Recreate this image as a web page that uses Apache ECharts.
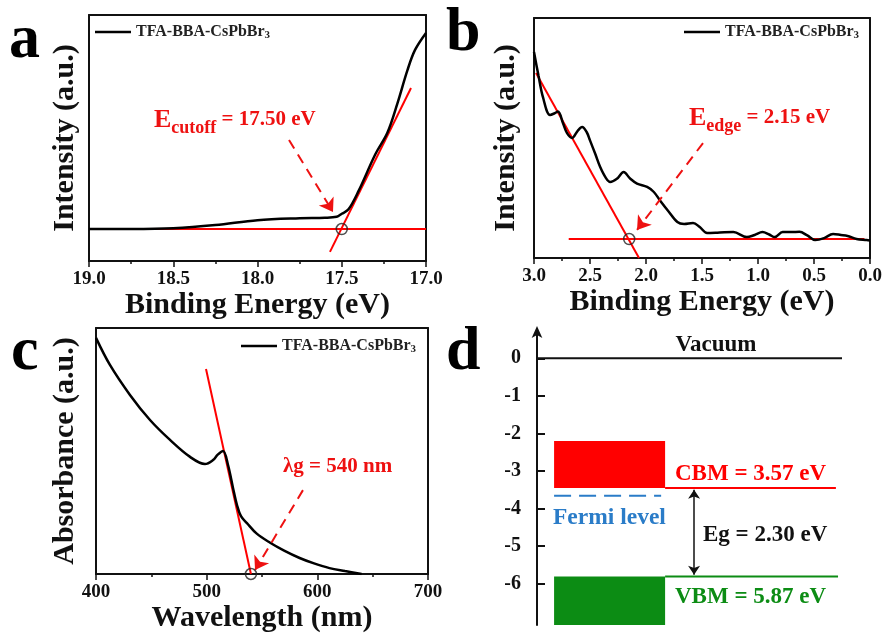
<!DOCTYPE html>
<html>
<head>
<meta charset="utf-8">
<script src="https://cdn.jsdelivr.net/npm/echarts@6/dist/echarts.min.js"></script>
<style>
  html, body { margin: 0; padding: 0; background: #fff; }
  #main { width: 885px; height: 635px; }
</style>
</head>
<body>
<div id="main"></div>
<script>
// panel a: secondary electron cutoff
var aEnergy = [19.0, 18.75, 18.5, 18.25, 18.0, 17.75, 17.6, 17.53, 17.5, 17.46, 17.4, 17.3, 17.23, 17.17, 17.11, 17.065, 17.0];
var aIntensity = [13, 13, 13.3, 14.6, 16.6, 17.4, 17.6, 18.0, 19.2, 21.0, 28.5, 43.5, 52, 64, 77.6, 85.8, 92.7];
var aBaseline = [[18.78, 13], [17.0, 13]];
var aTangent = [[17.57, 3.7], [17.089, 70.3]];
var aCutoff = [[17.5, 13]];

// panel b: valence band edge
var bEnergy = [3.0, 2.96, 2.92, 2.857, 2.82, 2.786, 2.74, 2.705, 2.66, 2.61, 2.57, 2.53, 2.5, 2.45, 2.41, 2.36, 2.32, 2.26, 2.2, 2.14, 2.08, 1.99, 1.93, 1.875, 1.8, 1.72, 1.66, 1.58, 1.52, 1.455, 1.38, 1.3, 1.22, 1.1, 1.03, 0.96, 0.9, 0.85, 0.78, 0.7, 0.63, 0.56, 0.49, 0.41, 0.33, 0.26, 0.2, 0.12, 0.03, 0.0];
var bIntensity = [85.8, 76, 67, 59.6, 60.2, 61, 56, 52, 50, 53, 54.6, 52.5, 49, 43, 38, 33.5, 31.7, 33, 35.8, 33, 31, 29.6, 27.5, 24, 19.5, 15, 14.2, 14.6, 12.9, 10.4, 10.5, 10.7, 10.8, 8.7, 9.6, 10.8, 9.8, 8.7, 10.8, 10.8, 10.9, 9.4, 7.5, 8.3, 10, 9.6, 9.2, 7.9, 7.5, 7.3];
var bBaseline = [[2.69, 7.9], [0.05, 7.9]];
var bTangent = [[2.982, 77.1], [2.0625, 0]];
var bEdge = [[2.15, 7.9]];

// panel c: absorption
var cWavelength = [400, 412.6, 430.7, 448.8, 466.9, 485, 498.5, 505.7, 510, 514.8, 519.3, 523.8, 527.4, 531, 536.4, 545, 557, 570, 584, 597, 611, 625, 640];
var cAbsorbance = [96, 85, 72.8, 62.6, 54.5, 47.6, 44.7, 46.3, 48.5, 50, 44.3, 35, 28, 23.5, 20.7, 16.5, 12.8, 9.5, 6.5, 4.3, 2.4, 1.2, 0];
var cTangent = [[499.4, 83.3], [540, 0]];
var cGap = [[540, 0]];

// panel d: band diagram (eV)
var dTicks = [0, -1, -2, -3, -4, -5, -6];
var vacuum = 0;
var cbTop = -2.2, cbm = -3.45, fermi = -3.66, vbm = -5.81, vbBottom = -7.1;

var FONT = 'Liberation Serif';
var RED = '#ff0000';
var TRED = '#ee1111';
var GREEN = '#0c8c14';
var BLUE = '#2a7cc8';
var INK = '#111';
var NAME = 'TFA-BBA-CsPbBr3';

function bottomAxis(grid, min, max, interval, inverse, digits, title) {
    return {
        type: 'value', gridIndex: grid, position: 'bottom', min: min, max: max,
        interval: interval, inverse: inverse,
        axisLine: { onZero: false, lineStyle: { color: INK, width: 2 } },
        axisTick: { length: 6, lineStyle: { color: INK, width: 1.5 } },
        minorTick: { show: true, splitNumber: 2, length: 3, lineStyle: { color: INK, width: 1.5 } },
        axisLabel: {
            margin: 9, color: INK, fontFamily: FONT, fontWeight: 'bold', fontSize: 19,
            formatter: function (v) { return v.toFixed(digits); }
        },
        splitLine: { show: false },
        name: title, nameLocation: 'middle', nameGap: 29,
        nameTextStyle: { color: INK, fontFamily: FONT, fontWeight: 'bold', fontSize: 30 }
    };
}
function topAxis(grid, min, max) {
    return {
        type: 'value', gridIndex: grid, position: 'top', min: min, max: max,
        axisLine: { onZero: false, lineStyle: { color: INK, width: 2 } },
        axisTick: { show: false }, axisLabel: { show: false }, splitLine: { show: false }
    };
}
function leftAxis(grid, title, gap) {
    return {
        type: 'value', gridIndex: grid, position: 'left', min: 0, max: 100,
        axisLine: { onZero: false, lineStyle: { color: INK, width: 2 } },
        axisTick: { show: false }, axisLabel: { show: false }, splitLine: { show: false },
        name: title, nameLocation: 'middle', nameGap: gap, nameRotate: 90,
        nameTextStyle: { color: INK, fontFamily: FONT, fontWeight: 'bold', fontSize: 30 }
    };
}
function rightAxis(grid) {
    return {
        type: 'value', gridIndex: grid, position: 'right', min: 0, max: 100,
        axisLine: { onZero: false, lineStyle: { color: INK, width: 2 } },
        axisTick: { show: false }, axisLabel: { show: false }, splitLine: { show: false }
    };
}
function zip(xs, ys) {
    return xs.map(function (x, i) { return [x, ys[i]]; });
}
function redLine(xi, yi, data) {
    return {
        type: 'line', xAxisIndex: xi, yAxisIndex: yi, data: data, symbol: 'none',
        lineStyle: { color: RED, width: 2 }, silent: true, z: 3
    };
}
function ring(xi, yi, data) {
    return {
        type: 'scatter', xAxisIndex: xi, yAxisIndex: yi, data: data, symbol: 'circle', symbolSize: 11,
        itemStyle: { color: 'rgba(0,0,0,0)', borderColor: '#222', borderWidth: 1.5 }, silent: true, z: 5
    };
}
function dashArrow(from, to) {
    return {
        silent: true, animation: false, symbol: ['none', 'arrow'], symbolSize: 13,
        lineStyle: { color: TRED, type: [10, 7], width: 2 },
        label: { show: false }, emphasis: { disabled: true },
        data: [[{ coord: from }, { coord: to }]]
    };
}
function legendAt(left, top) {
    return {
        left: left, top: top, padding: 0, itemWidth: 36, itemHeight: 2.5, itemGap: 0,
        icon: 'rect',
        data: [NAME],
        formatter: function () { return 'TFA-BBA-CsPbBr{s|3}'; },
        textStyle: {
            color: '#222', fontFamily: FONT, fontWeight: 'bold', fontSize: 16,
            rich: { s: { fontFamily: FONT, fontWeight: 'bold', fontSize: 11, verticalAlign: 'bottom', padding: [7, 0, 0, 0] } }
        }
    };
}
function curve(xi, yi, data, mark) {
    return {
        name: NAME, type: 'line', xAxisIndex: xi, yAxisIndex: yi, data: data,
        symbol: 'none', smooth: 0.35, lineStyle: { color: '#000', width: 2.5 }, itemStyle: { color: '#000' },
        markLine: mark, z: 4
    };
}
function text(x, y, t, size, color, extra) {
    var st = { x: x, y: y, text: t, fontFamily: FONT, fontWeight: 'bold', fontSize: size, fill: color, verticalAlign: 'middle' };
    if (extra) for (var k in extra) st[k] = extra[k];
    return { type: 'text', silent: true, style: st };
}
function subLabel(x, y, main, sub, rest) {
    return text(x, y, '{e|' + main + '}{s|' + sub + '}{t|' + rest + '}', 22, TRED, {
        rich: {
            e: { fontFamily: FONT, fontWeight: 'bold', fontSize: 26, fill: TRED, lineHeight: 34, verticalAlign: 'middle' },
            s: { fontFamily: FONT, fontWeight: 'bold', fontSize: 18, fill: TRED, lineHeight: 34, verticalAlign: 'bottom' },
            t: { fontFamily: FONT, fontWeight: 'bold', fontSize: 21, fill: TRED, lineHeight: 34, verticalAlign: 'middle' }
        }
    });
}

var chart = echarts.init(document.getElementById('main'), null, { renderer: 'canvas' });

var option = {
    backgroundColor: '#fff',
    animation: false,
    grid: [
        { left: 89, top: 15, width: 337, height: 246 },
        { left: 534, top: 18, width: 336, height: 240 },
        { left: 96, top: 328, width: 332, height: 246 },
        { left: 537, top: 332, width: 305, height: 293 }
    ],
    legend: [legendAt(95, 24), legendAt(684, 24), legendAt(241, 338)],
    xAxis: [
        bottomAxis(0, 17, 19, 0.5, true, 1, 'Binding Energy (eV)'),
        topAxis(0, 17, 19),
        bottomAxis(1, 0, 3, 0.5, true, 1, 'Binding Energy (eV)'),
        topAxis(1, 0, 3),
        bottomAxis(2, 400, 700, 100, false, 0, 'Wavelength (nm)'),
        topAxis(2, 400, 700),
        { type: 'value', gridIndex: 3, min: 0, max: 100, show: false }
    ],
    yAxis: [
        leftAxis(0, 'Intensity (a.u.)', 9),
        rightAxis(0),
        leftAxis(1, 'Intensity (a.u.)', 13),
        rightAxis(1),
        leftAxis(2, 'Absorbance (a.u.)', 16),
        rightAxis(2),
        {
            type: 'value', gridIndex: 3, min: vbBottom, max: 0.7,
            axisLine: { onZero: false, symbol: ['none', 'arrow'], symbolSize: [8, 12], symbolOffset: [0, 6], lineStyle: { color: INK, width: 2 } },
            axisTick: { inside: true, length: 8, customValues: dTicks, lineStyle: { color: INK, width: 2 } },
            axisLabel: { customValues: dTicks, margin: 16, color: INK, fontFamily: FONT, fontWeight: 'bold', fontSize: 20 },
            splitLine: { show: false }
        }
    ],
    series: [
        curve(0, 0, zip(aEnergy, aIntensity), dashArrow([17.813, 49.2], [17.552, 19.9])),
        redLine(0, 0, aBaseline),
        redLine(0, 0, aTangent),
        ring(0, 0, aCutoff),

        curve(2, 2, zip(bEnergy, bIntensity), dashArrow([1.491, 47.9], [2.08, 11.7])),
        redLine(2, 2, bBaseline),
        redLine(2, 2, bTangent),
        ring(2, 2, bEdge),

        curve(4, 4, zip(cWavelength, cAbsorbance), dashArrow([587, 34.1], [543.7, 1.6])),
        redLine(4, 4, cTangent),
        ring(4, 4, cGap),

        {
            type: 'custom', xAxisIndex: 6, yAxisIndex: 6, silent: true,
            data: [[5.6, 42, cbTop, cbm, 0], [5.6, 42, vbm, vbBottom, 1]],
            encode: { x: [0, 1], y: [2, 3] },
            renderItem: function (params, api) {
                var p0 = api.coord([api.value(0), api.value(2)]);
                var p1 = api.coord([api.value(1), api.value(3)]);
                return {
                    type: 'rect',
                    shape: { x: p0[0], y: p0[1], width: p1[0] - p0[0], height: p1[1] - p0[1] },
                    style: { fill: api.value(4) === 0 ? RED : GREEN }
                };
            }
        },
        {
            type: 'line', xAxisIndex: 6, yAxisIndex: 6, symbol: 'none', silent: true,
            data: [[0, vacuum], [100, vacuum]], lineStyle: { color: INK, width: 2 }
        },
        {
            type: 'line', xAxisIndex: 6, yAxisIndex: 6, symbol: 'none', silent: true,
            data: [[42, cbm], [98, cbm]], lineStyle: { color: RED, width: 2 },
            markLine: {
                silent: true, animation: false, symbol: ['arrow', 'arrow'], symbolSize: 9,
                lineStyle: { color: INK, type: 'solid', width: 1.5 }, label: { show: false },
                data: [[{ coord: [51.5, cbm - 0.05] }, { coord: [51.5, vbm + 0.05] }]]
            }
        },
        {
            type: 'line', xAxisIndex: 6, yAxisIndex: 6, symbol: 'none', silent: true,
            data: [[42, vbm], [98.7, vbm]], lineStyle: { color: GREEN, width: 2 }
        },
        {
            type: 'line', xAxisIndex: 6, yAxisIndex: 6, symbol: 'none', silent: true,
            data: [[5.6, fermi], [40.7, fermi]], lineStyle: { color: BLUE, width: 2, type: [17, 8] }
        }
    ],
    graphic: [
        text(9, 41, 'a', 62, '#000'),
        text(446, 34, 'b', 62, '#000'),
        text(11, 353, 'c', 62, '#000'),
        text(446, 353, 'd', 62, '#000'),
        subLabel(154, 120, 'E', 'cutoff', ' = 17.50 eV'),
        subLabel(689, 118, 'E', 'edge', ' = 2.15 eV'),
        text(283, 467, '\u03bbg = 540 nm', 21, TRED),
        text(716, 345, 'Vacuum', 23, INK, { align: 'center' }),
        text(675, 474, 'CBM = 3.57 eV', 23, RED),
        text(553, 518, 'Fermi level', 23.5, BLUE),
        text(703, 535, 'Eg = 2.30 eV', 23, INK),
        text(675, 597, 'VBM = 5.87 eV', 23, GREEN)
    ]
};

chart.setOption(option);
</script>
</body>
</html>
